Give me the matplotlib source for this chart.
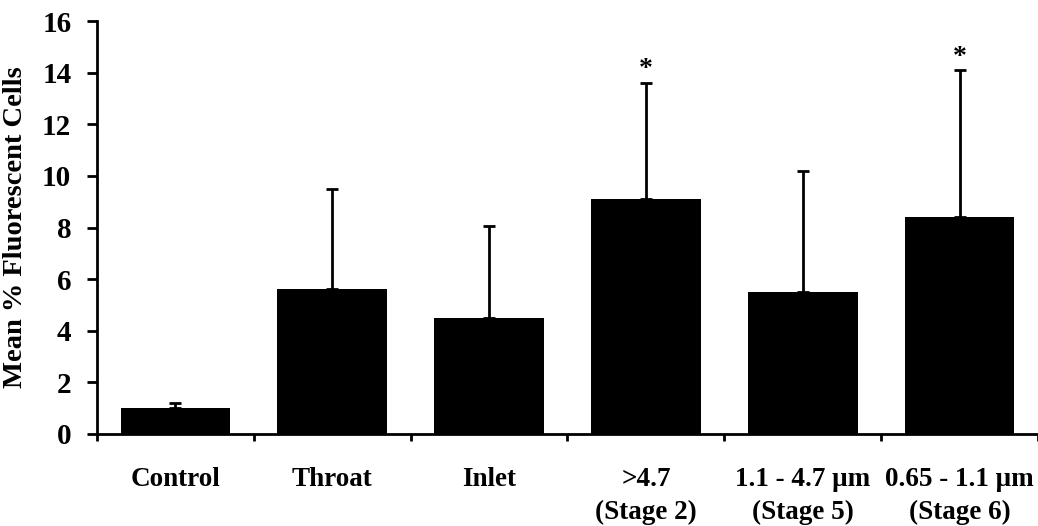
import matplotlib
matplotlib.use("Agg")
import matplotlib.pyplot as plt
import numpy as np

categories = ["Control", "Throat", "Inlet", ">4.7\n(Stage 2)",
              "1.1 - 4.7 \u03bcm\n(Stage 5)", "0.65 - 1.1 \u03bcm\n(Stage 6)"]
means = [1.0, 5.6, 4.5, 9.1, 5.5, 8.4]
errors = [0.2, 3.9, 3.55, 4.5, 4.7, 5.7]
significant = [False, False, False, True, False, True]

plt.rcParams["font.family"] = ["Liberation Serif", "DejaVu Serif"]
plt.rcParams["font.weight"] = "bold"

fig = plt.figure(figsize=(10.38, 5.26), dpi=100)
ax = fig.add_axes([97 / 1038, 1 - 434 / 526, 1 - 97 / 1038, (434 - 21) / 526])

x = np.arange(len(categories))
ax.bar(x, means, width=0.70, color="black", zorder=2)
ax.errorbar(x, means, yerr=[np.zeros(len(errors)), errors], fmt="none",
            ecolor="black", elinewidth=2, capsize=4, capthick=2, zorder=3)

# significance markers just above the error caps
for xi, m, e, s in zip(x, means, errors, significant):
    if s:
        ax.text(xi, m + e + 0.02, "*", ha="center", va="bottom",
                fontsize=20, fontweight="bold")

ax.set_xlim(-0.5, len(categories) - 0.5)
ax.set_ylim(0, 16)
ax.set_yticks(np.arange(0, 17, 2))
ax.set_xticks(x)
ax.set_xticklabels(categories, fontsize=19.5, fontweight="bold", linespacing=1.4)
ax.set_xticks(np.arange(-0.5, len(categories), 1.0), minor=True)
ax.tick_params(axis="x", which="major", length=0, pad=24)
ax.tick_params(axis="x", which="minor", length=5, width=2, direction="out")
ax.tick_params(axis="y", length=7.5, width=2, direction="out", labelsize=21, pad=11)
for lbl in ax.get_yticklabels():
    lbl.set_fontweight("bold")

ax.set_ylabel("Mean % Fluorescent Cells", fontsize=20.5, fontweight="bold", labelpad=10)

for side in ("top", "right"):
    ax.spines[side].set_visible(False)
for side in ("left", "bottom"):
    ax.spines[side].set_linewidth(2)

fig.savefig("out.png", dpi=100)
